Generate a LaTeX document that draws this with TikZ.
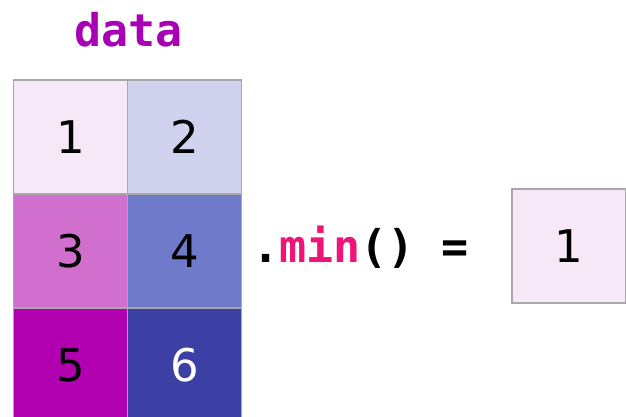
\documentclass[tikz,border=0pt]{standalone}
\usepackage{fontspec}
\setmainfont{DejaVu Sans}
\newfontfamily\codefont{DejaVu Sans Mono}
\definecolor{cA}{HTML}{F6E8F6}
\definecolor{cB}{HTML}{CFD3EE}
\definecolor{cC}{HTML}{D16FCE}
\definecolor{cD}{HTML}{6F7ACB}
\definecolor{cE}{HTML}{B000B0}
\definecolor{cF}{HTML}{3C3FA3}
\definecolor{gridgray}{HTML}{A8A8A8}
\definecolor{titlecol}{HTML}{A800B4}
\definecolor{methcol}{HTML}{EE1478}
\begin{document}
\begin{tikzpicture}[x=1pt,y=-1pt,
  cell/.style={draw=gridgray, line width=1.5pt, minimum width=114pt, minimum height=114pt,
    inner sep=0pt, outer sep=0pt, font=\fontsize{45}{45}\selectfont},
  code/.style={font=\codefont\bfseries\fontsize{45}{45}\selectfont, inner sep=0pt, anchor=base west}]
\useasboundingbox (0,0) rectangle (626,417);
% data frame cells
\node[cell, fill=cA] (c1) at (70.5,137) {1};
\node[cell, fill=cB] (c2) at (184.5,137) {2};
\node[cell, fill=cC] (c3) at (70.5,251) {3};
\node[cell, fill=cD] (c4) at (184.5,251) {4};
\node[cell, fill=cE] (c5) at (70.5,365) {5};
\node[cell, fill=cF, text=white] (c6) at (184.5,365) {6};
% title
\node[font=\codefont\bfseries\fontsize{45}{45}\selectfont, text=titlecol, inner sep=0pt, anchor=base] (title) at (128.5,47) {data};
% method call
\node[code] (call) at (252,262) {.\textcolor{methcol}{min}() =};
% result
\node[cell, fill=cA] (res) at (569,246) {1};
\end{tikzpicture}
\end{document}
